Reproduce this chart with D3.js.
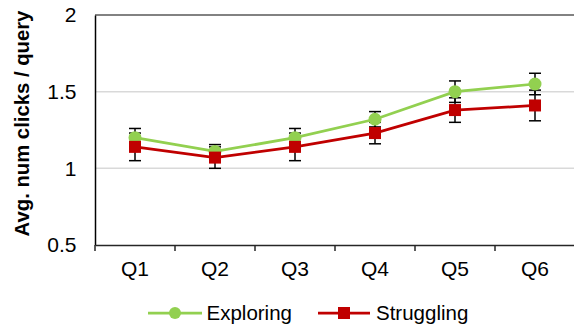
<!DOCTYPE html>
<html>
<head>
<meta charset="utf-8">
<script src="https://cdn.jsdelivr.net/npm/d3@7"></script>
<style>
  html, body { margin: 0; padding: 0; background: #fff; }
  svg { display: block; font-family: "Liberation Sans", Arial, sans-serif; }
</style>
</head>
<body>
<svg id="chart" width="574" height="327"></svg>
<script>
// Quarter categories and series
const categories = ["Q1", "Q2", "Q3", "Q4", "Q5", "Q6"];
const exploring = [1.20, 1.11, 1.20, 1.32, 1.50, 1.55];
const exploringErr = [0.06, 0.045, 0.06, 0.05, 0.07, 0.07];
const struggling = [1.14, 1.07, 1.14, 1.23, 1.38, 1.41];
const strugglingErr = [0.09, 0.07, 0.09, 0.07, 0.08, 0.10];
const yTicks = [0.5, 1, 1.5, 2];

const svg = d3.select("#chart");
const margin = { left: 95, top: 15, bottom: 82 };
const W = 574, H = 327;
const FONT = "Liberation Sans, Arial, sans-serif";

const x = d3.scaleBand().domain(categories)
  .range([margin.left, margin.left + 480]).padding(0);
const y = d3.scaleLinear().domain([0.5, 2]).range([H - margin.bottom, margin.top]);

// Gridlines
svg.append("g").selectAll("line")
  .data(yTicks.filter(t => t > 0.5 && t < 2))
  .join("line")
  .attr("x1", margin.left).attr("x2", W)
  .attr("y1", d => y(d)).attr("y2", d => y(d))
  .attr("stroke", "#d9d9d9").attr("stroke-width", 1.5);

// Top border of plot
svg.append("line")
  .attr("x1", margin.left).attr("x2", W)
  .attr("y1", y(2)).attr("y2", y(2))
  .attr("stroke", "#595959").attr("stroke-width", 1.5);

// Y axis
const yAxis = svg.append("g")
  .attr("transform", `translate(${margin.left},0)`)
  .call(d3.axisLeft(y).tickValues(yTicks).tickSize(0).tickPadding(18.5)
    .tickFormat(d3.format("")));
yAxis.select(".domain").attr("stroke", "#000").attr("stroke-width", 1.5);
yAxis.selectAll("text").attr("font-size", 21).attr("fill", "#000").attr("font-family", FONT);

// X axis with ticks between categories
const xAxis = svg.append("g")
  .attr("transform", `translate(0,${y(0.5)})`)
  .call(d3.axisBottom(x).tickSize(0).tickPadding(16));
xAxis.select(".domain").attr("stroke", "#262626").attr("stroke-width", 1.5);
xAxis.selectAll("text").attr("font-size", 21).attr("fill", "#000").attr("font-family", FONT);
xAxis.selectAll(".sep")
  .data(d3.range(categories.length + 1))
  .join("line").attr("class", "sep")
  .attr("x1", i => margin.left + i * x.step())
  .attr("x2", i => margin.left + i * x.step())
  .attr("y1", 0).attr("y2", 6)
  .attr("stroke", "#262626").attr("stroke-width", 1.5);

// Y axis title
svg.append("text")
  .attr("transform", `translate(29,123.5) rotate(-90)`)
  .attr("text-anchor", "middle")
  .attr("font-size", 20.3).attr("font-weight", "bold")
  .text("Avg. num clicks / query");

const cx = c => x(c) + x.bandwidth() / 2;

const series = [
  { name: "Exploring", values: exploring, err: exploringErr, color: "#92D050", shape: "circle" },
  { name: "Struggling", values: struggling, err: strugglingErr, color: "#C00000", shape: "square" }
];

// Error bars
series.forEach(s => {
  const g = svg.append("g");
  categories.forEach((c, i) => {
    const lo = y(s.values[i] - s.err[i]), hi = y(s.values[i] + s.err[i]);
    g.append("line").attr("x1", cx(c)).attr("x2", cx(c)).attr("y1", lo).attr("y2", hi)
      .attr("stroke", "#000").attr("stroke-width", 1.5);
    [lo, hi].forEach(v => g.append("line")
      .attr("x1", cx(c) - 6).attr("x2", cx(c) + 6).attr("y1", v).attr("y2", v)
      .attr("stroke", "#000").attr("stroke-width", 1.5));
  });
});

// Lines and markers
const line = d3.line().x((d, i) => cx(categories[i])).y(d => y(d));
series.forEach(s => {
  svg.append("path").datum(s.values).attr("d", line)
    .attr("fill", "none").attr("stroke", s.color).attr("stroke-width", 2.75);
  const g = svg.append("g");
  if (s.shape === "circle") {
    g.selectAll("circle").data(s.values).join("circle")
      .attr("cx", (d, i) => cx(categories[i])).attr("cy", d => y(d))
      .attr("r", 6.5).attr("fill", s.color);
  } else {
    g.selectAll("rect").data(s.values).join("rect")
      .attr("x", (d, i) => cx(categories[i]) - 6).attr("y", d => y(d) - 6)
      .attr("width", 12).attr("height", 12).attr("fill", s.color);
  }
});

// Legend
const legendY = 313;
const legendItems = [
  { s: series[0], x0: 148, x1: 202, tx: 206.5 },
  { s: series[1], x0: 318, x1: 370, tx: 376 }
];
legendItems.forEach(it => {
  const g = svg.append("g");
  g.append("line").attr("x1", it.x0).attr("x2", it.x1)
    .attr("y1", legendY).attr("y2", legendY)
    .attr("stroke", it.s.color).attr("stroke-width", 2.75);
  const m = (it.x0 + it.x1) / 2;
  if (it.s.shape === "circle") {
    g.append("circle").attr("cx", m).attr("cy", legendY).attr("r", 6).attr("fill", it.s.color);
  } else {
    g.append("rect").attr("x", m - 6).attr("y", legendY - 6).attr("width", 12).attr("height", 12)
      .attr("fill", it.s.color);
  }
  g.append("text").attr("x", it.tx).attr("y", legendY + 7)
    .attr("font-size", 20.5).text(it.s.name);
});
</script>
</body>
</html>
